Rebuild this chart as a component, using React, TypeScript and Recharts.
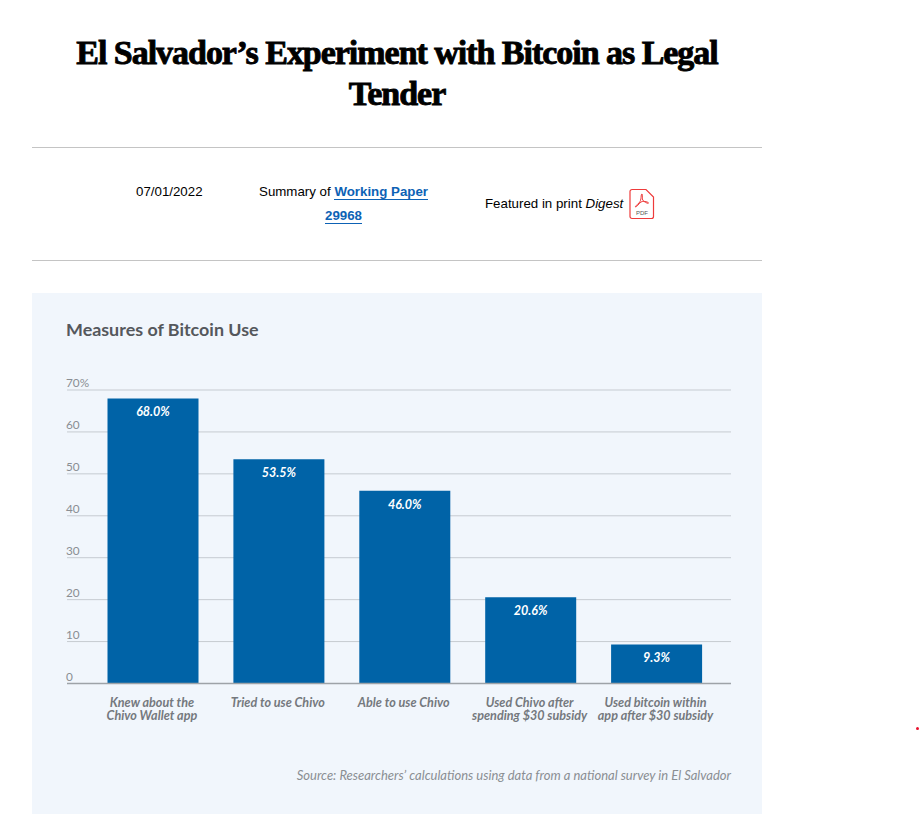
import React from "react";
import { BarChart, Bar, XAxis, YAxis, CartesianGrid, LabelList, ReferenceLine } from "recharts";

const categories = ["Knew about the|Chivo Wallet app", "Tried to use Chivo", "Able to use Chivo", "Used Chivo after|spending $30 subsidy", "Used bitcoin within|app after $30 subsidy"];
const values = [68.0, 53.5, 46.0, 20.6, 9.3];
const yTicks = [0, 10, 20, 30, 40, 50, 60, 70];
const data = categories.map((category, i) => ({ category, value: values[i] }));

const SANS = "Lato, 'Open Sans', sans-serif";
const ARIAL = "'Liberation Sans', Arial, sans-serif";

const YTick = (props: any) => (
  <text x={props.x - 1} y={props.y - 3} textAnchor="start" fontFamily={SANS} fontSize={11.8} fill="#8a8e93">
    {props.payload.value === 70 ? "70%" : props.payload.value}
  </text>
);

const XTick = (props: any) => {
  const lines: string[] = String(props.payload.value).split("|");
  const cx = props.x - 1.5;
  return (
    <text x={cx} textAnchor="middle" fontFamily={SANS} fontSize={12.6} fontStyle="italic" fontWeight={700} fill="#75797e">
      {lines.map((l, i) => (
        <tspan key={i} x={cx} y={props.y + 17 + i * 13}>{l}</tspan>
      ))}
    </text>
  );
};

const abs = (left: number, top: number, extra: React.CSSProperties = {}): React.CSSProperties => ({ position: "absolute", left, top, ...extra });

const PdfIcon = () => (
  <svg width={26} height={32} viewBox="0 0 26 32" style={abs(629, 188)}>
    <path d="M3 1.5 H17 L24.5 9 V28.5 a2 2 0 0 1 -2 2 H3 a2 2 0 0 1 -2 -2 V3.5 a2 2 0 0 1 2 -2 Z" fill="#fff" stroke="#ee3b3b" strokeWidth={1.2} />
    <path d="M13 6 C11.5 6 13 12 10 15 C8 17 6 18 6.5 19 C7.5 19.5 10 15 13 13.5 C15 13 19.5 14 19.5 15 C19.5 16 16 14.5 14 12.5 C12.5 11 14 7 13 6 Z" fill="none" stroke="#ee3b3b" strokeWidth={1} />
    <text x={13} y={27} textAnchor="middle" fontFamily={ARIAL} fontSize={6} fill="#555">PDF</text>
  </svg>
);

const linkStyle: React.CSSProperties = { color: "#0d62b5", fontWeight: 700, textDecoration: "none", borderBottom: "1px solid #0d62b5" };

export default function App() {
  return (
    <div style={{ position: "absolute", left: 0, top: 0, width: 920, height: 815, background: "#fff", overflow: "hidden", fontFamily: ARIAL, color: "#000" }}>
      <div style={abs(32, 32, { width: 730, textAlign: "center", fontFamily: "'Liberation Serif', serif", fontWeight: 700, fontSize: 34, letterSpacing: "-1.03px", lineHeight: "41px", WebkitTextStroke: "0.9px #000" })}>
        El Salvador’s Experiment with Bitcoin as Legal<br />Tender
      </div>
      <div style={abs(32, 147, { width: 730, height: 1, background: "#c4c4c4" })} />
      <div style={abs(136, 183, { fontSize: 13.3, lineHeight: "17px" })}>07/01/2022</div>
      <div style={abs(243.5, 180, { width: 200, textAlign: "center", fontSize: 13.3, lineHeight: "24px" })}>
        Summary of <a style={linkStyle}>Working Paper</a>
        <br />
        <a style={linkStyle}>29968</a>
      </div>
      <div style={abs(485, 195, { fontSize: 13.3, lineHeight: "17px" })}>Featured in print <i>Digest</i></div>
      <PdfIcon />
      <div style={abs(32, 260, { width: 730, height: 1, background: "#c4c4c4" })} />

      <div style={abs(32, 293, { width: 730, height: 521, background: "#f1f6fc" })}>
        <div style={abs(34, 25, { fontFamily: SANS, fontWeight: 700, fontSize: 17.9, lineHeight: "22px", color: "#55585c" })}>Measures of Bitcoin Use</div>
        <BarChart width={730} height={521} data={data} margin={{ top: 97, right: 31, bottom: 0, left: 0 }} barCategoryGap={0} style={{ position: "absolute", left: 0, top: 0 }}>
          <CartesianGrid horizontal vertical={false} stroke="#c6cbd1" strokeWidth={1} />
          <XAxis dataKey="category" interval={0} height={130.5} axisLine={false} tickLine={false} tickMargin={0} tick={<XTick />} padding={{ left: 23.5, right: 11 }} />
          <YAxis type="number" domain={[0, 70]} ticks={yTicks} width={35} axisLine={false} tickLine={false} tickMargin={0} tickSize={0} tick={<YTick />} interval={0} />
          <ReferenceLine y={0} stroke="#9ea3a8" strokeWidth={1.5} />
          <Bar dataKey="value" fill="#0063a7" barSize={91} isAnimationActive={false}>
            <LabelList dataKey="value" position="insideTop" offset={9} fill="#ffffff" fontFamily={SANS} fontSize={12.5} fontStyle="italic" fontWeight={700} formatter={(v: any) => `${Number(v).toFixed(1)}%`} />
          </Bar>
        </BarChart>
        <div style={abs(0, 474, { width: 699, textAlign: "right", fontFamily: SANS, fontStyle: "italic", fontSize: 13, lineHeight: "16px", color: "#8a8e93" })}>
          Source: Researchers’ calculations using data from a national survey in El Salvador
        </div>
      </div>
      <div style={abs(916, 727, { width: 3, height: 3, borderRadius: "50%", background: "#e8112d" })} />
    </div>
  );
}
